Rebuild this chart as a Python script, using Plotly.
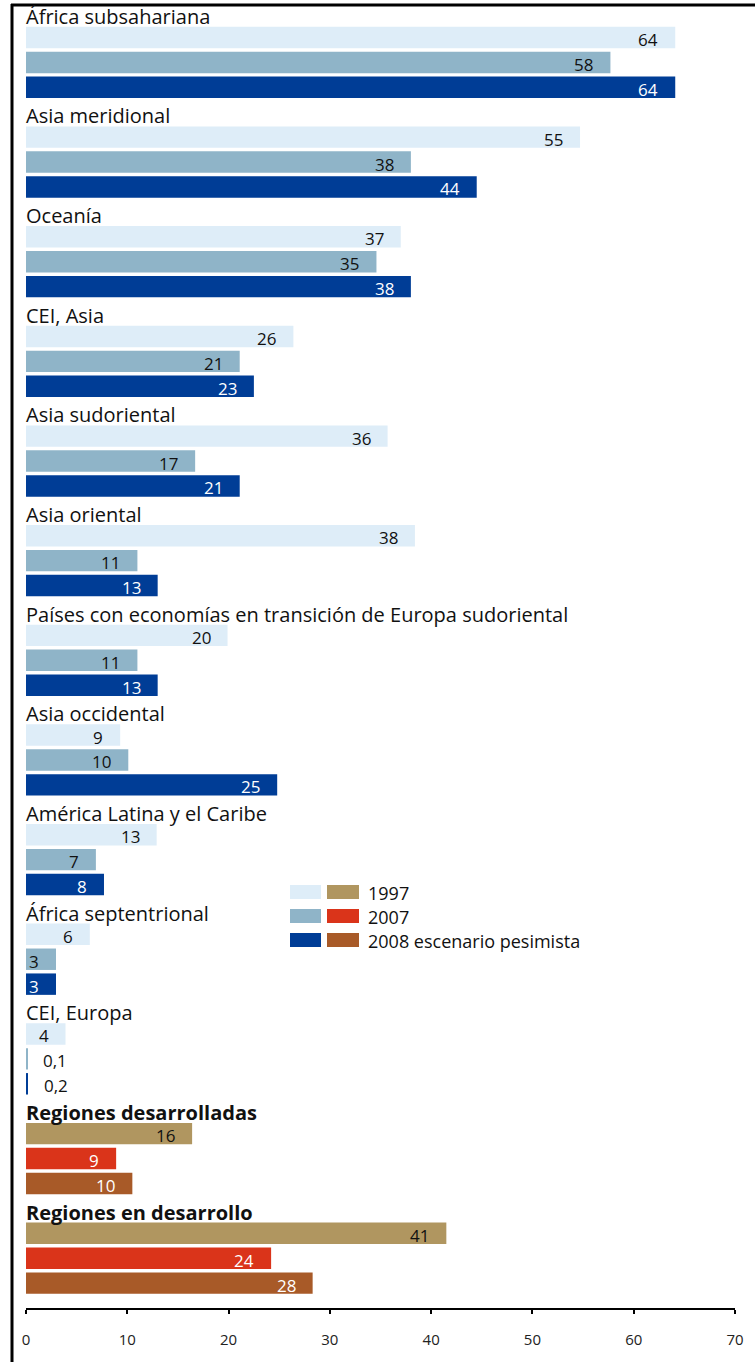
import plotly.graph_objects as go

categories = [
    "África subsahariana", "Asia meridional", "Oceanía", "CEI, Asia",
    "Asia sudoriental", "Asia oriental",
    "Países con economías en transición de Europa sudoriental",
    "Asia occidental", "América Latina y el Caribe", "África septentrional",
    "CEI, Europa", "Regiones desarrolladas", "Regiones en desarrollo",
]
aggregate = [False] * 11 + [True, True]

series_names = ["1997", "2007", "2008 escenario pesimista"]
# values
v1997 = [64.1, 54.7, 37.0, 26.4, 35.7, 38.4, 19.9, 9.3, 12.9, 6.3, 3.9, 16.4, 41.5]
v2007 = [57.7, 38.0, 34.6, 21.1, 16.7, 11.0, 11.0, 10.1, 6.9, 2.96, 0.1, 8.9, 24.2]
v2008 = [64.1, 44.5, 38.0, 22.5, 21.1, 13.0, 13.0, 24.8, 7.7, 2.96, 0.2, 10.5, 28.3]
# printed labels
t1997 = ["64", "55", "37", "26", "36", "38", "20", "9", "13", "6", "4", "16", "41"]
t2007 = ["58", "38", "35", "21", "17", "11", "11", "10", "7", "3", "0,1", "9", "24"]
t2008 = ["64", "44", "38", "23", "21", "13", "13", "25", "8", "3", "0,2", "10", "28"]

x_ticks = [0, 10, 20, 30, 40, 50, 60, 70]

regional_colors = ["#deedf8", "#8fb4c8", "#003d96"]
aggregate_colors = ["#b09660", "#da341a", "#a85a28"]
regional_text = ["#111111", "#111111", "#ffffff"]
aggregate_text = ["#111111", "#ffffff", "#ffffff"]

values = [v1997, v2007, v2008]
labels = [t1997, t2007, t2008]

FONT = "Open Sans"
fig = go.Figure()
annotations = []
for j in range(3):
    ys = [4 * i + 1 + j for i in range(len(categories))]
    cols = [aggregate_colors[j] if a else regional_colors[j] for a in aggregate]
    fig.add_trace(go.Bar(
        x=values[j], y=ys, orientation="h", width=0.86,
        marker=dict(color=cols, line=dict(width=0)),
        name=series_names[j], showlegend=False, hoverinfo="skip",
    ))
    for i, (v, t) in enumerate(zip(values[j], labels[j])):
        tc = aggregate_text[j] if aggregate[i] else regional_text[j]
        if v < 1:
            annotations.append(dict(x=v, y=ys[i], text=t, xanchor="left", showarrow=False,
                                    xshift=14, yshift=-2, font=dict(family=FONT, size=17, color="#111111")))
        else:
            annotations.append(dict(x=v, y=ys[i], text=t, xanchor="right", showarrow=False,
                                    xshift=-15, yshift=-2, font=dict(family=FONT, size=17, color=tc)))

for i, c in enumerate(categories):
    annotations.append(dict(
        x=0, y=4 * i + 1 - 0.43, text=("<b>%s</b>" % c) if aggregate[i] else c,
        xanchor="left", yanchor="bottom", showarrow=False, xshift=-2, yshift=-5,
        font=dict(family=FONT, size=20, color="#111111"),
    ))

# layout helpers (pixel -> paper)
L, R, T, B = 26, 20, 10, 54
W, H = 755, 1362
PW, PH = W - L - R, H - T - B
def px(x):
    return (x - L) / PW
def py(y):
    return (H - B - y) / PH

shapes = []
# frame (left and top)
shapes.append(dict(type="line", xref="paper", yref="paper", x0=px(12), x1=px(12), y0=py(4), y1=py(1362),
                   line=dict(color="#000000", width=3)))
shapes.append(dict(type="line", xref="paper", yref="paper", x0=px(11), x1=px(755), y0=py(5), y1=py(5),
                   line=dict(color="#000000", width=3)))
# manual legend
leg_rows = [892, 916, 940]
for r, yc in enumerate(leg_rows):
    shapes.append(dict(type="rect", xref="paper", yref="paper", x0=px(290), x1=px(321),
                       y0=py(yc + 7), y1=py(yc - 7), fillcolor=regional_colors[r], line=dict(width=0)))
    shapes.append(dict(type="rect", xref="paper", yref="paper", x0=px(327), x1=px(359),
                       y0=py(yc + 7), y1=py(yc - 7), fillcolor=aggregate_colors[r], line=dict(width=0)))
    annotations.append(dict(xref="paper", yref="paper", x=px(367), y=py(yc + 1), text=series_names[r],
                            xanchor="left", yanchor="middle", showarrow=False, borderpad=0,
                            font=dict(family=FONT, size=18, color="#111111")))

fig.update_layout(
    width=W, height=H, margin=dict(l=L, r=R, t=T, b=B),
    paper_bgcolor="white", plot_bgcolor="white",
    barmode="overlay", showlegend=False,
    annotations=annotations, shapes=shapes,
    xaxis=dict(range=[0, 70], tickvals=x_ticks, ticktext=[str(t) for t in x_ticks],
               showgrid=False, zeroline=False, showline=True, linecolor="#000000", linewidth=1.5,
               ticks="outside", ticklen=4, tickcolor="#000000", tickwidth=1.5,
               tickfont=dict(family=FONT, size=15, color="#222222"), ticklabelstandoff=13,
               fixedrange=True),
    yaxis=dict(range=[52.0, -0.104], showgrid=False, zeroline=False, showline=False,
               showticklabels=False, ticks="", fixedrange=True),
)

fig.write_html("out.html")
